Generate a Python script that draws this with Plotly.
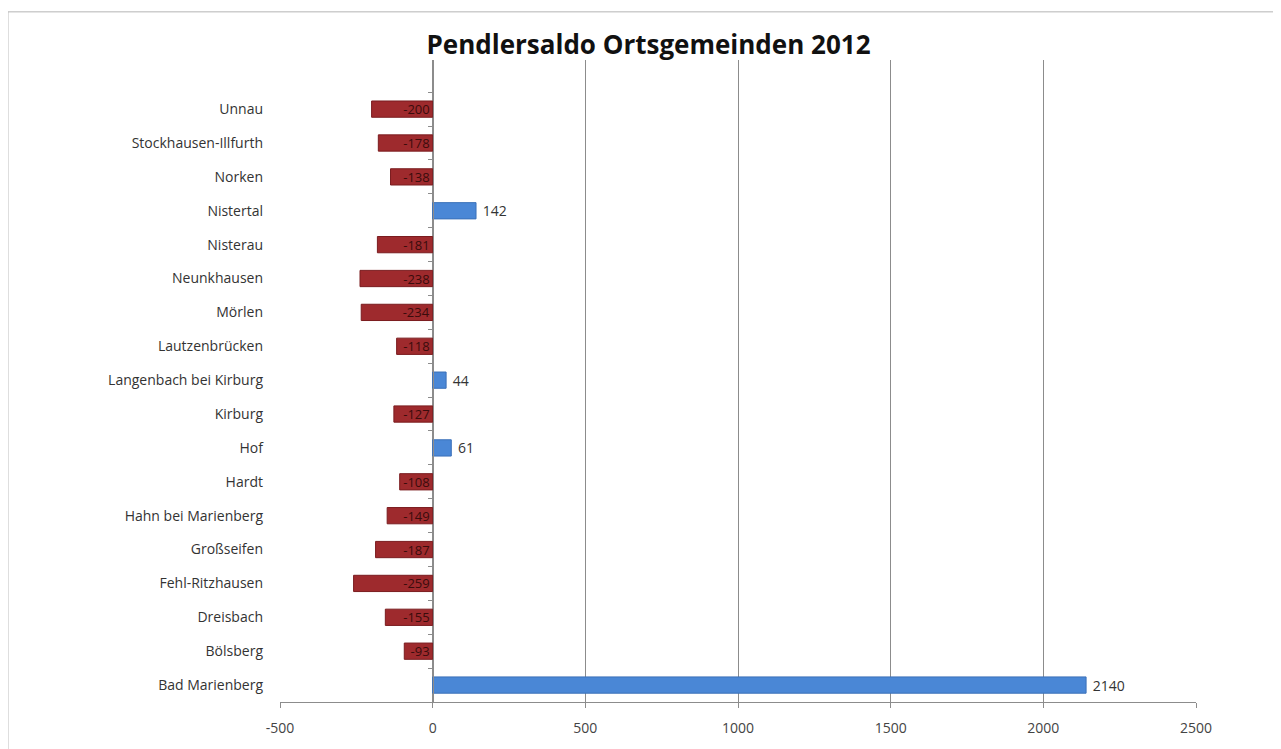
import plotly.graph_objects as go

# Pendlersaldo per Ortsgemeinde (bottom to top as drawn)
gemeinden = ["Bad Marienberg", "Bölsberg", "Dreisbach", "Fehl-Ritzhausen", "Großseifen",
             "Hahn bei Marienberg", "Hardt", "Hof", "Kirburg", "Langenbach bei Kirburg",
             "Lautzenbrücken", "Mörlen", "Neunkhausen", "Nisterau", "Nistertal",
             "Norken", "Stockhausen-Illfurth", "Unnau"]
saldo = [2140, -93, -155, -259, -187, -149, -108, 61, -127, 44,
         -118, -234, -238, -181, 142, -138, -178, -200]
x_ticks = [-500, 0, 500, 1000, 1500, 2000, 2500]
x_tick_labels = ["-500", "0", "500", "1000", "1500", "2000", "2500"]

neg_x = [v if v < 0 else None for v in saldo]
pos_x = [v if v >= 0 else None for v in saldo]

fig = go.Figure()
fig.add_trace(go.Bar(
    y=gemeinden, x=neg_x, orientation="h",
    marker=dict(color="#9e2a2d", line=dict(color="#7a1c1f", width=1)),
    text=[str(v) if v is not None else "" for v in neg_x],
    textposition="inside", insidetextanchor="start", constraintext="none",
    textfont=dict(family="Open Sans", size=13, color="#3a0c0c"),
    cliponaxis=False, hoverinfo="x+y",
))
fig.add_trace(go.Bar(
    y=gemeinden, x=pos_x, orientation="h",
    marker=dict(color="#4a87d6", line=dict(color="#3b70b8", width=1)),
    text=[" " + str(v) if v is not None else "" for v in pos_x],
    textposition="outside", constraintext="none",
    textfont=dict(family="Open Sans", size=14, color="#333333"),
    cliponaxis=False, hoverinfo="x+y",
))

# y axis line sits at x = 0
dom = [0.0, 1.0]
zero_pos = dom[0] + (dom[1] - dom[0]) * (0 - x_ticks[0]) / (x_ticks[-1] - x_ticks[0])
y_range = [-0.5, len(gemeinden) + 0.45]

fig.update_layout(
    width=1281, height=749,
    margin=dict(l=272, r=93, t=52, b=55),
    paper_bgcolor="white", plot_bgcolor="white",
    barmode="overlay", bargap=0.52, showlegend=False,
    font=dict(family="Open Sans", size=14, color="#333333"),
    title=dict(text="<b>Pendlersaldo Ortsgemeinden 2012</b>", xref="container", x=0.5,
               xanchor="center", y=0.951, yanchor="middle",
               font=dict(family="Open Sans", size=26, color="#111111")),
    xaxis=dict(range=[x_ticks[0], x_ticks[-1]], tickvals=x_ticks, ticktext=x_tick_labels,
               domain=dom, showgrid=True, gridcolor="#8c8c8c", gridwidth=1, zeroline=False,
               showline=True, linecolor="#8c8c8c", ticks="outside", ticklen=5,
               tickcolor="#8c8c8c", ticklabelstandoff=8,
               tickfont=dict(size=14, color="#444444")),
    yaxis=dict(categoryorder="array", categoryarray=gemeinden, range=y_range,
               showgrid=False, zeroline=False, showline=False, ticks="",
               ticklabelstandoff=16, tickfont=dict(size=14, color="#333333")),
    yaxis2=dict(overlaying="y", anchor="free", position=zero_pos, side="left",
                categoryorder="array", categoryarray=gemeinden, matches="y",
                showticklabels=False, showgrid=False, showline=True,
                linecolor="#8c8c8c", ticks="outside", tickson="boundaries",
                ticklen=5, tickcolor="#8c8c8c"),
)
fig.add_trace(go.Scatter(y=gemeinden, x=[None] * len(gemeinden), yaxis="y2",
                         mode="markers", showlegend=False, hoverinfo="skip"))

# outer frame
fig.add_shape(type="rect", xref="paper", yref="paper", x0=-0.297, x1=1.2,
              y0=-0.2, y1=1.075, line=dict(color="#b5b5b5", width=1), layer="below")

fig.write_html("out.html")
